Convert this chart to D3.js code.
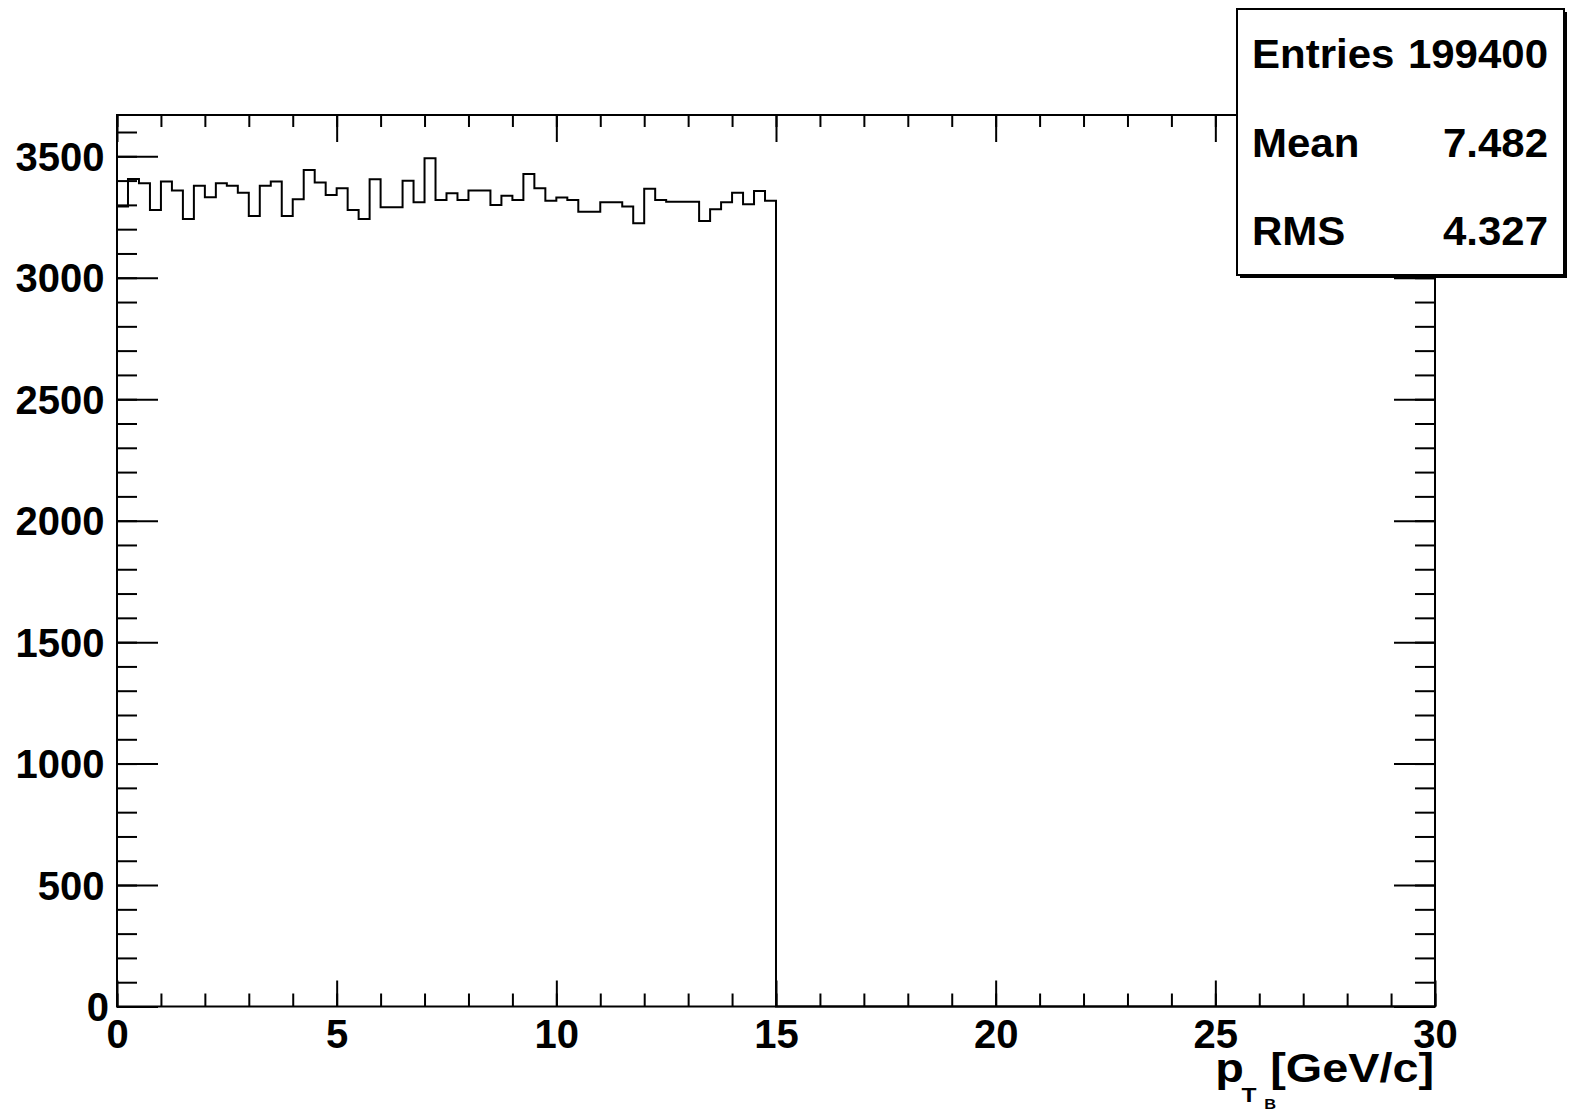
<!DOCTYPE html>
<html>
<head>
<meta charset="utf-8">
<script src="https://cdn.jsdelivr.net/npm/d3@7"></script>
<style>
  body { margin: 0; background: #fff; }
  text { font-family: "Liberation Sans", Arial, Helvetica, sans-serif; font-weight: bold; fill: #000; }
</style>
</head>
<body>
<div id="wrapper"></div>
<script>
// histogram: 120 bins of 0.25 on [0,30], only the first 60 are filled
const binWidth = 0.25
const binCounts = [
    3293, 3407, 3389, 3279, 3396, 3359, 3242, 3379, 3331, 3389,
    3379, 3350, 3254, 3379, 3396, 3254, 3323, 3444, 3392, 3341,
    3368, 3279, 3242, 3406, 3290, 3290, 3399, 3311, 3492, 3320,
    3348, 3320, 3359, 3359, 3300, 3338, 3320, 3427, 3368, 3317,
    3330, 3320, 3272, 3272, 3311, 3311, 3293, 3224, 3366, 3320,
    3313, 3313, 3313, 3234, 3282, 3311, 3350, 3303, 3357, 3317
]
const xTicks = [0, 5, 10, 15, 20, 25, 30]
const yTicks = [0, 500, 1000, 1500, 2000, 2500, 3000, 3500]
const statsLabels = ["Entries", "Mean", "RMS"]
const statsValues = ["199400", "7.482", "4.327"]

const dimensions = {
    width: 1570,
    height: 1115,
    left: 117,
    right: 1435,
    top: 115,
    bottom: 1006.5,
}

const svg = d3.select("#wrapper")
    .append("svg")
    .attr("width", dimensions.width)
    .attr("height", dimensions.height)

svg.append("rect")
    .attr("width", dimensions.width)
    .attr("height", dimensions.height)
    .attr("fill", "#fff")

const xScaler = d3.scaleLinear()
    .domain([0, 30])
    .range([dimensions.left, dimensions.right])

const yScaler = d3.scaleLinear()
    .domain([0, 3670])
    .range([dimensions.bottom, dimensions.top])

// axes: inward ticks on all four sides, major + minor
function styleAxis(g) {
    g.select(".domain").remove()
    g.selectAll("line").attr("stroke", "#000").attr("stroke-width", 2)
    g.selectAll("text").attr("font-size", "40px").attr("fill", "#000")
}

svg.append("g")
    .attr("transform", `translate(0,${dimensions.bottom})`)
    .call(d3.axisBottom(xScaler).tickValues(xScaler.ticks(30)).tickSize(-13).tickFormat(""))
    .call(styleAxis)

svg.append("g")
    .attr("transform", `translate(0,${dimensions.bottom})`)
    .call(d3.axisBottom(xScaler).tickValues(xTicks).tickSize(-26).tickFormat(d3.format("d")))
    .call(styleAxis)
    .call(g => g.selectAll("text").attr("y", 41).attr("dy", null))

svg.append("g")
    .attr("transform", `translate(0,${dimensions.top})`)
    .call(d3.axisTop(xScaler).tickValues(xScaler.ticks(30)).tickSize(-12).tickFormat(""))
    .call(styleAxis)

svg.append("g")
    .attr("transform", `translate(0,${dimensions.top})`)
    .call(d3.axisTop(xScaler).tickValues(xTicks).tickSize(-27).tickFormat(""))
    .call(styleAxis)

svg.append("g")
    .attr("transform", `translate(${dimensions.left},0)`)
    .call(d3.axisLeft(yScaler).tickValues(yScaler.ticks(36)).tickSize(-20).tickFormat(""))
    .call(styleAxis)

svg.append("g")
    .attr("transform", `translate(${dimensions.left},0)`)
    .call(d3.axisLeft(yScaler).tickValues(yTicks).tickSize(-41).tickFormat(d3.format("d")))
    .call(styleAxis)
    .call(g => g.selectAll("text")
        .attr("x", d => d === 0 ? -8 : -12.5)
        .attr("dy", "0.35em"))

svg.append("g")
    .attr("transform", `translate(${dimensions.right},0)`)
    .call(d3.axisRight(yScaler).tickValues(yScaler.ticks(36)).tickSize(-20).tickFormat(""))
    .call(styleAxis)

svg.append("g")
    .attr("transform", `translate(${dimensions.right},0)`)
    .call(d3.axisRight(yScaler).tickValues(yTicks).tickSize(-41).tickFormat(""))
    .call(styleAxis)

// frame
svg.append("rect")
    .attr("x", dimensions.left)
    .attr("y", dimensions.top)
    .attr("width", dimensions.right - dimensions.left)
    .attr("height", dimensions.bottom - dimensions.top)
    .attr("fill", "none")
    .attr("stroke", "#000")
    .attr("stroke-width", 2)

// histogram outline
const points = [[0, 0]]
binCounts.forEach((c, i) => {
    points.push([i * binWidth, c])
    points.push([(i + 1) * binWidth, c])
})
points.push([binCounts.length * binWidth, 0])
points.push([30, 0])

const lineGen = d3.line()
    .x(d => xScaler(d[0]))
    .y(d => yScaler(d[1]))

svg.append("path")
    .attr("d", lineGen(points))
    .attr("fill", "none")
    .attr("stroke", "#000")
    .attr("stroke-width", 2)

// x axis title  p_{T_B} [GeV/c]
const title = svg.append("g")
    .attr("transform", `translate(${dimensions.right - 1},1081.7) scale(1.17,1)`)
title.append("text").attr("x", -187).attr("font-size", "40px").text("p")
title.append("text").attr("x", -164.5).attr("y", 20).attr("font-size", "21px").text("T")
title.append("text").attr("x", -145).attr("y", 27).attr("font-size", "14px").text("B")
title.append("text").attr("x", 0).attr("text-anchor", "end").attr("font-size", "40px").text("[GeV/c]")

// stats box
const box = { x: 1237, y: 9, w: 327, h: 266 }
svg.append("rect")
    .attr("x", box.x + 3).attr("y", box.y + 3)
    .attr("width", box.w).attr("height", box.h)
    .attr("fill", "#000")
svg.append("rect")
    .attr("x", box.x).attr("y", box.y)
    .attr("width", box.w).attr("height", box.h)
    .attr("fill", "#fff")
    .attr("stroke", "#000")
    .attr("stroke-width", 2)

const rowH = box.h / statsLabels.length
statsLabels.forEach((label, i) => {
    const baseY = box.y + rowH * (i + 0.5) + 14.5
    svg.append("g")
        .attr("transform", `translate(${box.x + 15},${baseY}) scale(1.05,1)`)
        .append("text")
        .attr("font-size", "40px")
        .text(label)
    svg.append("g")
        .attr("transform", `translate(${box.x + box.w - 16},${baseY}) scale(1.05,1)`)
        .append("text")
        .attr("font-size", "40px")
        .attr("text-anchor", "end")
        .text(statsValues[i])
})
</script>
</body>
</html>
